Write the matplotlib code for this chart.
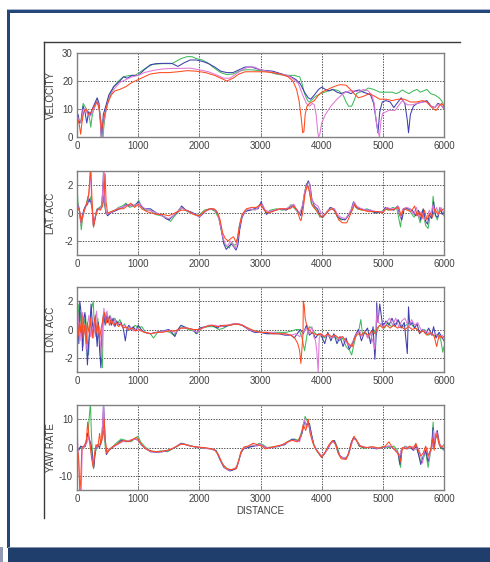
import matplotlib
matplotlib.use("Agg")
import matplotlib.pyplot as plt
from matplotlib.lines import Line2D
from matplotlib.patches import Rectangle

plt.rcParams['font.family'] = ['Liberation Sans', 'DejaVu Sans']
plt.rcParams['axes.unicode_minus'] = False

# ---------------- data (distance, value) pairs ----------------
VEL_BLUE = [(0,6),(20,8),(40,5),(70,6),(100,11),(130,9),(160,5),(190,9),(220,8),(250,10),(290,12),(330,14),(360,12),(380,6),(395,0),(410,2),(430,8),(470,11),(520,15),(600,18),(700,20),(760,21.5),(820,21),(900,22),(1000,22),(1100,24),(1200,25.8),(1300,26.2),(1400,26.3),(1550,26.3),(1650,25.2),(1750,26.5),(1850,27.5),(1950,27.5),(2050,27),(2150,26.2),(2250,25),(2350,23.5),(2450,23),(2550,23),(2650,24),(2750,25),(2850,25),(2950,24.3),(3050,23.8),(3200,23.5),(3350,22.5),(3500,21.5),(3580,20.5),(3650,19),(3720,16),(3780,14),(3820,13.5),(3880,15),(3950,17),(4000,17.8),(4060,17),(4120,16.5),(4180,17),(4250,16),(4320,15.5),(4400,16.2),(4480,15.5),(4550,16.5),(4620,16.8),(4680,16),(4750,15.5),(4800,15),(4850,12),(4890,6),(4920,1.5),(4950,9),(4990,12.5),(5050,13),(5120,12.5),(5180,10.5),(5230,12),(5300,14),(5360,12),(5400,6),(5420,1.5),(5450,8),(5500,11),(5560,12),(5650,12.5),(5720,13),(5790,11),(5850,10.5),(5900,12),(5950,11.5),(6000,10)]
VEL_GREEN = [(0,7),(30,6),(60,5),(100,12),(140,10.5),(180,9),(210,6),(225,3.5),(250,8),(290,11),(330,13.5),(360,11),(390,6),(410,2),(425,0),(440,4),(470,9),(520,14),(600,18),(680,20),(760,21.5),(860,22),(950,22),(1050,23.5),(1150,25),(1250,26),(1400,26.2),(1550,26.2),(1620,27),(1700,28),(1800,28.7),(1880,28.7),(1950,28),(2050,27.5),(2150,26.3),(2250,24.5),(2350,23),(2450,22.3),(2550,22.5),(2650,23.5),(2750,24),(2850,24),(2950,23.8),(3100,23.5),(3250,22.5),(3400,22),(3550,22),(3640,21.5),(3680,19),(3720,15.5),(3770,13),(3800,12.5),(3850,13.5),(3900,14.5),(3980,15.5),(4050,16),(4120,16.5),(4200,17),(4280,16.5),(4350,15),(4400,12.5),(4440,11),(4490,11),(4530,13),(4570,15.5),(4620,16),(4700,16.5),(4760,17.5),(4850,17),(4950,16),(5050,16),(5150,16),(5220,15.5),(5270,16),(5320,16.8),(5380,16),(5430,15.5),(5500,16.5),(5560,17),(5610,16),(5670,16.5),(5720,17),(5780,15.5),(5850,15),(5920,14),(5960,13),(5985,12),(6000,10)]
VEL_RED = [(0,5),(20,6),(40,4),(60,1),(80,5),(110,9),(150,10),(190,8),(230,9),(280,11),(330,12.5),(360,10),(385,6),(400,2),(415,4),(450,8),(500,12),(560,15),(620,16.5),(700,17),(800,18),(900,19.5),(1000,20.5),(1100,21.5),(1200,22.5),(1350,23),(1500,23),(1650,23.3),(1800,23.7),(1950,23.5),(2100,23),(2250,22),(2350,21),(2450,20),(2550,21),(2650,22.5),(2750,23.3),(2900,23.3),(3050,23.3),(3200,23),(3350,22.3),(3450,21.5),(3530,20),(3590,17),(3630,13),(3665,7),(3690,1.5),(3710,2),(3730,8),(3760,11),(3800,12),(3880,13),(3950,15),(4000,16),(4100,17),(4200,18),(4300,18.7),(4400,18.5),(4470,17),(4530,15.5),(4600,14),(4680,14.5),(4780,15.5),(4870,14.5),(4950,13.5),(5050,13.5),(5150,13),(5250,13.5),(5350,13.5),(5450,12.5),(5550,12.5),(5650,13),(5720,12.5),(5780,11),(5830,10),(5870,9.5),(5920,11),(5960,12),(6000,11)]
VEL_MAG = [(0,0),(15,7),(40,6),(70,5),(100,10),(140,9.5),(180,8),(220,7.5),(260,9),(300,11),(330,13),(355,11),(375,8),(390,3),(400,0),(425,0),(440,6),(480,10),(530,14),(600,17),(700,19.5),(800,20.5),(900,21.5),(1000,22),(1100,23),(1250,23.8),(1400,24.3),(1550,24.5),(1700,24.5),(1850,24.6),(2000,24),(2150,23.3),(2300,22),(2400,21),(2500,21),(2600,22.5),(2700,24),(2800,25),(2900,25),(3000,24),(3150,23.3),(3300,22.5),(3450,22),(3550,20.5),(3620,19),(3690,15),(3750,12),(3800,11),(3850,12),(3880,11.5),(3910,8),(3935,2),(3950,0),(3970,1),(4000,5),(4060,8),(4150,11),(4250,13.5),(4350,15.5),(4450,16.5),(4530,16.5),(4600,16),(4680,17),(4760,16.5),(4820,15),(4860,12),(4890,6),(4920,2),(4945,0),(4970,6),(5000,8.5),(5100,9.5),(5200,9.5),(5250,11),(5320,13),(5400,11.5),(5480,11.5),(5560,12),(5650,12.5),(5720,12.5),(5780,11),(5840,10.5),(5900,11.5),(5950,11.5),(6000,10)]

LAT_BLUE = [(0,0.3),(20,0.5),(40,0.2),(60,-0.6),(80,-0.3),(110,0.2),(140,0.5),(170,0.6),(200,1.0),(225,0.8),(250,0.3),(270,-0.9),(290,-0.5),(320,0.2),(360,0.3),(400,0.4),(420,1.5),(435,3.2),(450,1.0),(470,0),(500,-0.2),(550,0),(600,0.1),(650,0.2),(700,0.3),(750,0.4),(800,0.6),(850,0.5),(900,0.6),(950,0.5),(1000,0.8),(1050,0.5),(1100,0.3),(1200,0.3),(1300,0),(1400,-0.2),(1450,-0.4),(1500,-0.5),(1550,-0.3),(1600,-0.1),(1650,0.1),(1710,0.5),(1780,0.2),(1850,0.1),(1950,-0.1),(2000,-0.3),(2050,-0.1),(2120,0.2),(2200,0.3),(2270,0.2),(2320,-0.3),(2360,-1.2),(2400,-2.2),(2440,-2.6),(2480,-2.4),(2520,-2.2),(2560,-2.4),(2600,-2.65),(2630,-2.3),(2660,-1.2),(2700,-0.3),(2750,0.1),(2820,0.2),(2900,0.3),(2960,0.3),(3010,0.8),(3060,0.3),(3100,-0.1),(3150,0.1),(3250,0.2),(3350,0.3),(3420,0.2),(3480,0.4),(3540,0.6),(3580,0.3),(3620,0.1),(3660,-0.2),(3700,0.8),(3740,1.8),(3780,2.3),(3810,2.0),(3840,1.0),(3880,0.5),(3930,0.3),(3980,-0.2),(4020,-0.3),(4080,0),(4140,0.4),(4200,0.3),(4250,-0.2),(4300,-0.4),(4380,-0.5),(4430,-0.2),(4480,0.2),(4520,0.8),(4560,0.4),(4640,0.3),(4720,0.2),(4800,0.2),(4880,0),(4950,0.1),(5000,0.05),(5040,0.4),(5100,0.3),(5180,0.2),(5240,0.5),(5280,-0.2),(5310,-0.5),(5350,0.3),(5420,0.3),(5480,0.2),(5540,-0.2),(5580,0.2),(5620,-0.5),(5660,0.3),(5700,-0.6),(5730,-0.8),(5760,-0.1),(5800,-0.4),(5830,0.8),(5860,-0.2),(5900,-0.3),(5940,0.3),(5970,-0.1),(6000,0.1)]
LAT_GREEN = [(0,2.0),(15,0.8),(35,0.3),(55,-0.5),(70,-1.2),(90,-0.4),(120,0.3),(150,0.6),(180,1.2),(205,0.8),(230,1.2),(250,0.2),(270,-1.0),(295,-0.4),(330,0.3),(370,0.4),(410,0.6),(440,0.9),(470,0.1),(510,-0.1),(560,0.1),(620,0.2),(680,0.4),(740,0.5),(800,0.7),(860,0.4),(920,0.5),(980,0.7),(1010,0.9),(1060,0.4),(1120,0.2),(1200,0.2),(1280,-0.1),(1380,-0.2),(1450,-0.3),(1530,-0.6),(1580,-0.3),(1640,0),(1720,0.4),(1800,0.1),(1880,0),(1960,-0.2),(2010,-0.1),(2080,0.2),(2180,0.3),(2260,0.1),(2320,-0.4),(2370,-1.5),(2410,-2.2),(2450,-2.4),(2490,-2.5),(2530,-2.1),(2570,-2.3),(2610,-2.2),(2650,-1.0),(2700,-0.1),(2760,0.2),(2840,0.2),(2920,0.3),(2990,0.6),(3040,0.4),(3100,0),(3160,0.2),(3260,0.3),(3360,0.2),(3440,0.3),(3500,0.6),(3560,0.3),(3620,0),(3670,0.1),(3710,1.2),(3750,2.1),(3790,1.8),(3830,0.7),(3870,0.4),(3920,0.2),(3970,-0.3),(4030,-0.2),(4090,0.1),(4150,0.3),(4210,0.2),(4260,-0.3),(4320,-0.5),(4400,-0.4),(4450,-0.1),(4500,0.3),(4540,0.7),(4580,0.3),(4660,0.2),(4740,0.3),(4820,0.1),(4900,0),(4980,0.1),(5030,0.3),(5090,0.2),(5160,0.4),(5230,0.3),(5270,-0.6),(5290,-1.0),(5320,0.2),(5380,0.4),(5450,0.1),(5510,-0.3),(5560,0.1),(5610,-0.7),(5650,0.2),(5700,-0.9),(5740,-1.1),(5770,-0.3),(5800,-0.2),(5822,1.2),(5850,0),(5890,-0.5),(5930,0.4),(5970,0),(6000,-0.2)]
LAT_RED = [(0,0.4),(25,0.3),(50,0),(70,-0.7),(95,-0.2),(130,0.3),(160,0.7),(190,1.3),(210,2.5),(225,3.3),(245,1.0),(270,-1.0),(300,-0.3),(340,0.3),(380,0.2),(420,0.5),(445,1.5),(460,2.8),(475,0.8),(500,0),(560,0.1),(620,0.2),(690,0.3),(760,0.3),(820,0.5),(880,0.7),(940,0.4),(1000,0.6),(1060,0.3),(1140,0.1),(1220,0),(1300,-0.1),(1400,-0.1),(1500,-0.2),(1600,0),(1700,0.2),(1800,0.2),(1900,-0.1),(2000,-0.2),(2080,0.1),(2160,0.3),(2240,0.3),(2300,0),(2340,-0.5),(2380,-1.4),(2420,-1.8),(2470,-2.0),(2520,-1.8),(2560,-1.7),(2600,-2.1),(2630,-1.7),(2660,-0.8),(2700,-0.1),(2770,0.3),(2850,0.4),(2930,0.4),(3000,0.6),(3060,0.2),(3120,0),(3200,0.1),(3300,0.3),(3400,0.3),(3480,0.3),(3540,0.5),(3600,0.2),(3640,-0.4),(3660,-0.55),(3690,0),(3730,1.4),(3770,2.0),(3800,1.5),(3840,0.6),(3890,0.3),(3940,0),(4000,-0.3),(4060,-0.1),(4120,0.2),(4180,0.3),(4230,0),(4280,-0.5),(4340,-0.7),(4410,-0.7),(4460,-0.2),(4500,0.2),(4540,0.6),(4590,0.3),(4680,0.2),(4760,0.1),(4850,0.1),(4930,0.1),(5000,0),(5050,0.3),(5120,0.2),(5200,0.3),(5260,0.4),(5300,-0.2),(5340,0.3),(5400,0.2),(5460,0.1),(5520,0.5),(5560,-0.2),(5600,0.1),(5640,-0.4),(5680,0.2),(5720,-0.5),(5770,0),(5810,-0.3),(5850,0.3),(5900,-0.1),(5950,0.2),(6000,0.3)]
LAT_MAG = [(0,1.0),(20,0.4),(45,0.1),(65,-0.8),(90,-0.3),(120,0.2),(150,0.5),(185,1.0),(205,1.8),(220,3.3),(240,0.8),(265,-0.9),(290,-0.4),(330,0.2),(370,0.3),(405,0.5),(425,2.0),(440,3.3),(455,0.8),(480,-0.1),(530,0),(590,0.1),(650,0.3),(720,0.4),(790,0.5),(850,0.6),(910,0.5),(970,0.6),(1020,0.7),(1080,0.4),(1160,0.2),(1250,0.1),(1350,-0.1),(1430,-0.3),(1500,-0.4),(1570,-0.2),(1640,0.1),(1700,0.4),(1770,0.2),(1860,0),(1940,-0.1),(2000,-0.3),(2060,0),(2140,0.2),(2230,0.3),(2290,0.1),(2340,-0.8),(2390,-1.8),(2430,-2.3),(2470,-2.3),(2510,-2.0),(2550,-2.3),(2590,-2.5),(2620,-2.0),(2650,-1.1),(2700,-0.2),(2760,0.2),(2830,0.3),(2910,0.2),(2980,0.5),(3030,0.6),(3080,0.2),(3140,0.1),(3240,0.2),(3340,0.3),(3420,0.3),(3490,0.5),(3550,0.6),(3590,0.2),(3640,0),(3690,0.6),(3720,1.5),(3760,2.0),(3800,2.2),(3830,1.1),(3860,0.8),(3900,0.6),(3940,0.5),(3990,0),(4040,-0.2),(4100,0.2),(4160,0.3),(4210,0.3),(4260,-0.1),(4310,-0.3),(4390,-0.4),(4440,-0.1),(4490,0.3),(4530,0.8),(4570,0.5),(4650,0.3),(4730,0.2),(4810,0.2),(4890,0.1),(4960,0.1),(5010,0.1),(5060,0.4),(5130,0.3),(5210,0.3),(5250,0.5),(5290,-0.3),(5330,0.3),(5390,0.4),(5450,0.3),(5500,-0.1),(5550,0.4),(5590,-0.3),(5630,0.1),(5680,-0.5),(5720,-0.3),(5760,0.2),(5790,-0.1),(5820,0.6),(5850,0.1),(5880,0.4),(5910,-0.1),(5950,0.4),(6000,0)]

LON_BLUE = [(0,1.5),(15,0.5),(30,-1.0),(45,2.0),(60,1.5),(75,0.5),(90,-1.5),(110,0.8),(130,1.2),(150,-0.5),(170,-2.5),(190,-1.0),(210,0.2),(230,1.8),(250,0.5),(270,-0.3),(290,0.8),(310,0),(330,-1.2),(350,0.5),(370,-1.5),(390,-2.7),(405,-0.5),(420,0.5),(440,1.2),(460,0.3),(480,1.0),(500,0.5),(530,0.9),(560,0.3),(590,0.8),(620,0.2),(650,0.6),(690,0.3),(720,0.5),(760,0),(790,-0.8),(820,0.1),(850,0.3),(880,0),(920,0.2),(960,-0.1),(1000,0.3),(1050,0),(1100,-0.2),(1200,-0.3),(1300,-0.2),(1400,-0.1),(1500,0),(1550,-0.2),(1600,-0.5),(1650,0),(1700,0.3),(1800,0.1),(1900,0),(1950,-0.3),(2000,0.1),(2100,0.2),(2200,0.3),(2300,0.1),(2350,0.3),(2400,0.2),(2500,0.3),(2600,0.4),(2700,0.3),(2800,0),(2900,-0.2),(3000,-0.2),(3100,-0.3),(3200,-0.3),(3300,-0.3),(3400,-0.4),(3500,-0.4),(3550,-0.6),(3600,-0.3),(3650,0),(3700,-0.3),(3750,0.3),(3800,-0.4),(3850,-0.2),(3900,-0.6),(3950,-0.3),(4000,-0.5),(4050,-1.0),(4100,-0.2),(4150,-0.8),(4200,-0.3),(4250,-1.0),(4300,-0.5),(4350,-1.2),(4400,-0.6),(4450,-1.4),(4500,-1.0),(4550,-0.4),(4600,0),(4650,-0.8),(4700,-0.2),(4750,0.1),(4800,-1.0),(4840,0.2),(4870,-2.1),(4890,-0.5),(4900,1.9),(4920,0.5),(4950,1.8),(4980,0.8),(5000,0.2),(5050,0.6),(5100,0.3),(5150,0.8),(5200,0.2),(5250,0.7),(5300,0.1),(5350,0.5),(5400,-1.7),(5420,1.6),(5440,0.3),(5480,0.5),(5520,0.1),(5560,0.4),(5600,-0.3),(5650,0),(5700,-0.3),(5750,0.1),(5800,-0.4),(5830,0.2),(5870,-0.6),(5920,-0.2),(5960,-0.5),(6000,-0.8)]
LON_GREEN = [(0,0.5),(20,1.8),(40,-0.5),(60,1.2),(80,0),(100,-1.2),(120,0.5),(140,1.0),(160,-0.3),(190,-1.8),(210,0.3),(240,1.5),(265,2.0),(285,0.2),(310,-0.5),(340,0.8),(370,-0.8),(395,-2.0),(415,-2.7),(430,1.0),(450,0.5),(480,1.2),(510,0.6),(540,1.0),(580,0.5),(620,0.8),(660,0.4),(700,0.7),(740,0.2),(780,0.4),(820,-0.1),(860,0.2),(900,0),(950,0.3),(1000,0.1),(1060,0.2),(1120,-0.2),(1200,-0.3),(1250,-0.6),(1320,-0.2),(1420,-0.1),(1520,-0.2),(1580,-0.4),(1640,-0.1),(1720,0.2),(1820,0),(1900,-0.1),(1960,-0.3),(2040,0.1),(2140,0.2),(2240,0.2),(2320,0),(2400,0.1),(2480,0.3),(2560,0.4),(2650,0.4),(2740,0.2),(2820,0),(2920,-0.1),(3020,-0.2),(3120,-0.3),(3220,-0.2),(3320,-0.2),(3420,-0.2),(3520,-0.1),(3580,0),(3630,0),(3680,-0.6),(3720,-1.5),(3760,-0.4),(3800,0.2),(3840,0.1),(3880,-0.2),(3930,-0.4),(3980,-0.3),(4040,-0.6),(4100,-0.4),(4160,-0.6),(4220,-0.5),(4280,-0.8),(4340,-0.6),(4400,-1.2),(4460,-1.5),(4490,-1.8),(4530,-1.0),(4570,-0.3),(4610,0),(4640,0.7),(4670,-0.4),(4720,-0.2),(4760,-0.6),(4800,-0.2),(4850,0),(4890,-0.4),(4930,0.2),(4980,0.4),(5030,0.1),(5080,0.5),(5140,0.2),(5200,0.4),(5260,0.6),(5320,0.2),(5380,0.3),(5440,0.5),(5500,0.2),(5560,0),(5620,-0.2),(5680,0),(5740,-0.4),(5800,-0.3),(5860,-0.5),(5910,-0.3),(5950,-0.8),(5980,-1.6),(6000,-1.2)]
LON_RED = [(0,0.8),(20,-0.5),(40,0.5),(60,-0.2),(80,1.0),(100,-0.6),(125,0.3),(150,-1.0),(170,0.5),(200,-0.3),(225,0.8),(250,-0.6),(275,0.3),(300,1.0),(320,-0.2),(345,0.4),(370,-0.6),(400,0.2),(425,0.8),(450,1.2),(475,0.4),(500,0.9),(530,0.3),(560,0.7),(600,0.3),(640,0.5),(680,0.2),(720,0.4),(760,0.1),(800,0.2),(850,0),(900,0.1),(960,-0.1),(1020,0),(1100,-0.2),(1200,-0.3),(1300,-0.2),(1400,-0.2),(1500,-0.1),(1600,-0.1),(1700,0.1),(1800,0.1),(1900,0),(2000,0),(2100,0.2),(2200,0.3),(2300,0.2),(2400,0.3),(2500,0.3),(2600,0.4),(2700,0.3),(2800,0.1),(2900,-0.1),(3000,-0.2),(3100,-0.2),(3200,-0.3),(3300,-0.3),(3400,-0.3),(3500,-0.4),(3560,-0.6),(3610,-1.0),(3640,-1.5),(3660,-2.4),(3680,-1.2),(3695,-0.3),(3700,2.0),(3715,1.7),(3730,0.8),(3750,0.4),(3790,0),(3830,-0.2),(3880,-0.3),(3930,-0.4),(3980,-0.3),(4040,-0.5),(4100,-0.3),(4160,-0.5),(4220,-0.4),(4280,-0.6),(4340,-0.5),(4400,-0.8),(4460,-1.1),(4500,-1.2),(4540,-0.6),(4590,-0.3),(4640,-0.4),(4700,-0.2),(4760,-0.4),(4820,-0.1),(4870,-0.3),(4910,0.1),(4950,0.3),(5000,0.1),(5060,0.3),(5120,0.1),(5180,0.3),(5240,0.1),(5300,0.2),(5360,0),(5420,0.2),(5480,0),(5540,0.1),(5600,-0.2),(5660,-0.1),(5720,-0.4),(5780,-0.2),(5840,-0.5),(5880,-1.2),(5920,-0.4),(5960,-0.6),(6000,-0.5)]
LON_MAG = [(0,-1.2),(15,1.2),(30,0.3),(50,-0.8),(70,0.6),(90,1.2),(110,-0.4),(130,0.4),(150,-1.4),(170,0.3),(195,1.0),(220,-0.5),(245,0.2),(270,-0.6),(295,0.6),(320,1.3),(340,-0.4),(365,0.2),(385,-1.2),(400,-2.0),(420,0.4),(440,1.5),(465,0.6),(490,1.3),(520,0.5),(550,0.9),(580,0.4),(620,0.7),(660,0.3),(700,0.5),(740,0.2),(780,0.3),(820,0),(870,0.2),(920,-0.1),(980,0.1),(1040,-0.1),(1120,-0.2),(1220,-0.3),(1320,-0.2),(1420,-0.1),(1520,-0.1),(1620,-0.2),(1700,0.1),(1800,0.1),(1880,0),(1960,-0.2),(2050,0.1),(2150,0.3),(2250,0.3),(2350,0.2),(2450,0.3),(2550,0.4),(2640,0.4),(2720,0.3),(2800,0),(2900,-0.1),(3000,-0.2),(3100,-0.2),(3200,-0.2),(3300,-0.3),(3400,-0.3),(3500,-0.4),(3580,-0.3),(3640,-0.5),(3700,-0.2),(3750,0.1),(3800,-0.3),(3840,0.2),(3870,-0.5),(3900,-0.8),(3920,-1.5),(3943,-3.0),(3960,-0.6),(3990,-0.3),(4040,-0.5),(4100,-0.4),(4160,-0.6),(4220,-0.4),(4280,-0.7),(4340,-0.5),(4400,-0.9),(4460,-1.2),(4520,-0.8),(4570,-0.3),(4620,-0.1),(4660,-0.5),(4700,-0.1),(4750,-0.6),(4800,-0.3),(4840,-0.9),(4870,-1.4),(4890,0.3),(4910,1.6),(4930,0.5),(4960,0.4),(5000,0.2),(5060,0.5),(5110,0.8),(5160,0.3),(5210,0.8),(5260,0.2),(5310,0.6),(5360,0.8),(5420,0.2),(5470,0.7),(5520,0.3),(5570,0.5),(5620,0),(5680,-0.1),(5740,-0.2),(5800,-0.4),(5860,-0.3),(5920,-0.6),(5970,-0.4),(6000,-0.6)]

YAW_BLUE = [(0,0),(30,-1),(60,0.5),(100,0),(140,0.5),(170,5),(200,3),(230,1),(260,-5),(275,-7),(300,-1),(330,1),(370,0),(400,3),(420,8),(435,15.5),(455,5),(480,-2.5),(520,-1),(580,0),(650,1),(720,2.5),(800,2),(880,2.5),(950,3),(1000,2.5),(1050,1),(1100,0),(1200,-1.5),(1300,-1.7),(1400,-1.5),(1500,-1),(1600,0),(1700,1.5),(1800,0.8),(1900,0.3),(2000,0),(2100,-0.2),(2200,-0.5),(2280,-1.2),(2330,-4),(2400,-7),(2500,-8.3),(2600,-7.5),(2640,-5),(2680,-2),(2720,-0.5),(2800,0),(2900,0.5),(3000,1),(3050,0.5),(3100,-0.2),(3200,0),(3300,0.5),(3400,1),(3450,2),(3520,3),(3580,2.5),(3630,2.2),(3680,5),(3720,9),(3760,8),(3800,8.5),(3830,5),(3870,1),(3920,-1),(3970,-2.5),(4000,-3.5),(4050,-2),(4100,-0.5),(4150,1.5),(4200,2.5),(4240,0.5),(4280,-2.5),(4330,-3.5),(4400,-4),(4440,-2),(4480,1.5),(4520,3.5),(4570,2.5),(4620,0.5),(4700,0),(4800,0),(4900,-0.5),(5000,0),(5100,0.5),(5150,0),(5200,-0.8),(5250,-2),(5280,-6),(5300,-1),(5350,0),(5400,-0.5),(5450,0),(5500,-1),(5550,0.5),(5600,-4),(5620,-6),(5660,-3),(5700,-1),(5740,-5),(5760,-2),(5800,0),(5820,7),(5840,0),(5870,5),(5890,6),(5920,2),(5950,0),(6000,-0.5)]
YAW_GREEN = [(0,-1),(20,-0.5),(50,0),(90,-0.5),(130,0.5),(160,3),(185,6),(205,12),(220,16),(235,5),(255,-3),(270,-7.5),(290,-3),(320,0),(360,1),(400,2),(430,6),(445,4),(470,-1.5),(510,-1),(570,0),(640,1.5),(720,3),(800,2.5),(880,2),(960,3.5),(1000,4),(1040,2),(1100,0.5),(1180,-1),(1280,-1.5),(1380,-1.2),(1480,-1.5),(1560,-0.5),(1650,0.5),(1720,1.5),(1800,1),(1880,0.5),(1980,0),(2080,-0.3),(2180,-0.5),(2260,-1),(2320,-3),(2380,-6),(2460,-7.5),(2540,-8),(2610,-7.2),(2650,-4),(2690,-1.5),(2740,0),(2820,0.3),(2920,0.8),(2980,1.5),(3040,1),(3100,0),(3200,0.2),(3300,0.3),(3400,1.5),(3480,2.5),(3560,3),(3620,2.5),(3680,6),(3730,11),(3770,9),(3800,8),(3840,4),(3880,0.5),(3930,-1.5),(3980,-3),(4040,-2.5),(4100,0),(4160,2),(4210,2.5),(4260,0),(4300,-3),(4370,-3.8),(4430,-3),(4470,0),(4510,3),(4560,3),(4610,0.5),(4700,-0.3),(4800,0.2),(4900,-0.3),(5000,0.3),(5100,0),(5180,0.5),(5240,-1),(5270,-5),(5290,-7),(5310,-1),(5360,0.5),(5420,0),(5480,-0.5),(5530,1),(5580,-2),(5620,-5),(5660,-4),(5700,-1.5),(5740,-7),(5770,-3),(5800,1),(5822,9),(5840,1),(5870,4),(5900,3),(5940,0),(6000,-1)]
YAW_RED = [(0,0),(25,-3),(45,-15),(60,-12),(80,0),(110,0.5),(150,2),(175,9),(195,4),(215,1),(240,-4),(265,-7),(290,-2),(310,1),(340,0),(370,5),(390,1),(420,4),(445,10),(460,3),(490,-2),(540,-0.5),(600,0.5),(680,1.5),(760,2.5),(840,2),(920,3),(980,3.5),(1040,1.5),(1120,-0.5),(1220,-1.3),(1320,-1.5),(1420,-1.2),(1520,-0.8),(1620,0.3),(1700,1.2),(1780,1),(1860,0.5),(1960,0.2),(2060,0),(2160,-0.3),(2250,-0.8),(2310,-2.5),(2370,-5.5),(2440,-7.5),(2520,-7.8),(2600,-7.5),(2640,-5),(2680,-1.5),(2730,0.2),(2800,0.5),(2880,1.5),(2950,1),(3020,0.5),(3080,-0.5),(3160,0),(3260,0.5),(3360,1),(3440,2),(3520,2.5),(3600,2),(3660,4),(3700,8),(3740,6),(3780,10),(3810,5),(3850,2),(3900,-0.5),(3950,-2),(4000,-3.5),(4060,-1.5),(4120,1),(4180,2.5),(4230,1),(4270,-2),(4320,-4),(4400,-4.2),(4450,-1.5),(4490,2),(4530,4),(4580,2),(4640,0.3),(4740,0),(4840,0.3),(4940,-0.3),(5040,0.5),(5100,2),(5140,0.5),(5200,-1),(5260,-2.5),(5290,-5),(5320,0),(5380,-0.5),(5440,0.5),(5500,-0.5),(5540,1.5),(5580,-1),(5620,-3),(5660,-2),(5700,0.5),(5740,-3),(5780,-1),(5810,3),(5840,-1),(5860,3),(5890,5),(5920,1),(5960,0),(6000,1)]
YAW_MAG = [(0,15.5),(10,2),(25,-4),(40,-10),(55,-15.5),(70,-15.5),(85,-1),(120,0.5),(160,1.5),(185,4),(210,1),(240,-3),(265,-6),(290,-1.5),(320,0.5),(360,1),(400,2),(420,9),(432,15.5),(450,6),(475,-2),(520,-0.8),(590,0.3),(660,1),(740,2),(820,2.3),(900,2.8),(970,3),(1020,2),(1090,0.3),(1180,-1.2),(1280,-1.6),(1380,-1.5),(1480,-1),(1580,-0.2),(1680,1.2),(1760,1.2),(1840,0.6),(1940,0.2),(2040,-0.1),(2140,-0.4),(2240,-0.8),(2300,-2),(2360,-5),(2420,-7.3),(2500,-8),(2580,-7.3),(2630,-6),(2670,-2.5),(2710,-0.5),(2780,0.3),(2860,1),(2940,0.5),(3000,1.2),(3060,0.3),(3140,-0.2),(3240,0.2),(3340,0.8),(3420,1.5),(3500,2.5),(3570,2.5),(3640,2),(3690,7),(3720,10),(3750,7),(3790,8),(3820,5),(3860,1.5),(3910,-0.8),(3960,-2),(4010,-3),(4070,-1.5),(4130,1),(4190,2.2),(4230,0.8),(4270,-2),(4320,-3.5),(4390,-3.8),(4440,-2.5),(4480,0.5),(4520,3),(4560,3),(4620,0.8),(4720,0),(4820,0),(4920,-0.3),(5020,0.2),(5110,0.5),(5170,-0.3),(5230,-1.5),(5270,-3),(5300,-1),(5360,0.3),(5420,-0.3),(5480,0.3),(5520,-0.8),(5570,0),(5610,-2),(5650,-5.5),(5680,-1),(5720,0),(5750,-4),(5780,-1.5),(5810,1),(5830,6),(5850,2),(5880,5.5),(5910,2),(5950,0.5),(6000,0)]

SERIES_COLORS = {'green': '#3fba5a', 'blue': '#3f3fb0', 'magenta': '#df78d6', 'red': '#ff4a1e'}

PANELS = [
    ('VELOCITY',  (0, 30),  [0, 10, 20, 30], {'green': VEL_GREEN, 'blue': VEL_BLUE, 'magenta': VEL_MAG, 'red': VEL_RED}),
    ('LAT. ACC',  (-3, 3),  [-2, 0, 2],      {'green': LAT_GREEN, 'blue': LAT_BLUE, 'magenta': LAT_MAG, 'red': LAT_RED}),
    ('LON. ACC',  (-3, 3),  [-2, 0, 2],      {'green': LON_GREEN, 'blue': LON_BLUE, 'magenta': LON_MAG, 'red': LON_RED}),
    ('YAW RATE',  (-15, 15), [-10, 0, 10],   {'green': YAW_GREEN, 'blue': YAW_BLUE, 'magenta': YAW_MAG, 'red': YAW_RED}),
]
X_TICKS = [0, 1000, 2000, 3000, 4000, 5000, 6000]
X_LABEL = 'DISTANCE'

# ---------------- figure ----------------
W, H = 490, 562
fig = plt.figure(figsize=(W / 100, H / 100), dpi=100)
fig.patch.set_facecolor('white')

def fx(px):
    return px / W

def fy(py):
    return 1 - py / H

# outer frame decorations (pixel based)
fig.add_artist(Rectangle((fx(7), fy(548)), fx(2.5), fy(10) - fy(548), transform=fig.transFigure,
                         facecolor='#24477a', edgecolor='none'))
fig.add_artist(Rectangle((fx(7), fy(12.5)), 1 - fx(7), fy(9.5) - fy(12.5), transform=fig.transFigure,
                         facecolor='#24477a', edgecolor='none'))
fig.add_artist(Rectangle((fx(7), fy(9.5)), 1 - fx(7), fy(8.8) - fy(9.5), transform=fig.transFigure,
                         facecolor='#a9b6cc', edgecolor='none'))
fig.add_artist(Rectangle((fx(8), 0), 1 - fx(8), fy(548), transform=fig.transFigure,
                         facecolor='#1f3e6c', edgecolor='none'))
fig.add_artist(Rectangle((fx(8), fy(548)), 1 - fx(8), fy(547) - fy(548), transform=fig.transFigure,
                         facecolor='#8594ad', edgecolor='none'))
fig.add_artist(Rectangle((0, 0), fx(3), fy(547), transform=fig.transFigure,
                         facecolor='#9299b3', edgecolor='none'))
# black bracket
fig.add_artist(Line2D([fx(44), fx(460)], [fy(42), fy(42)], transform=fig.transFigure,
                      color='#3a3a3a', lw=1.0))
fig.add_artist(Line2D([fx(44), fx(44)], [fy(42), fy(518)], transform=fig.transFigure,
                      color='#3a3a3a', lw=1.0))

AX_LEFT, AX_RIGHT = 77, 444
AX_TOPS = [53, 171, 287, 405]
AX_BOTS = [137, 255, 372, 490]

for i, (label, ylim, yticks, series) in enumerate(PANELS):
    top, bot = AX_TOPS[i], AX_BOTS[i]
    ax = fig.add_axes([fx(AX_LEFT), fy(bot), fx(AX_RIGHT - AX_LEFT), (bot - top) / H])
    for name in ['green', 'blue', 'magenta', 'red']:
        pts = series[name]
        xs = [p[0] for p in pts]
        ys = [p[1] for p in pts]
        ax.plot(xs, ys, color=SERIES_COLORS[name], lw=0.75, clip_on=True)
    ax.set_xlim(0, 6000)
    ax.set_ylim(*ylim)
    ax.set_xticks(X_TICKS)
    ax.set_yticks(yticks)
    ax.grid(True, color='#303030', linestyle=(0, (1.6, 1.6)), linewidth=0.6)
    for sp in ax.spines.values():
        sp.set_color('#808080')
        sp.set_linewidth(1.0)
    ax.tick_params(direction='in', length=3, width=0.6, color='#808080',
                   labelsize=7, labelcolor='#404040', pad=3)
    ax.set_ylabel(label, fontsize=7, color='#404040', labelpad=2)
    ax.yaxis.set_label_coords(-(AX_LEFT - 56) / (AX_RIGHT - AX_LEFT), 0.5)
    if i == 3:
        ax.set_xlabel(X_LABEL, fontsize=7, color='#404040', labelpad=1)

fig.savefig('out.png', dpi=100, facecolor='white')
